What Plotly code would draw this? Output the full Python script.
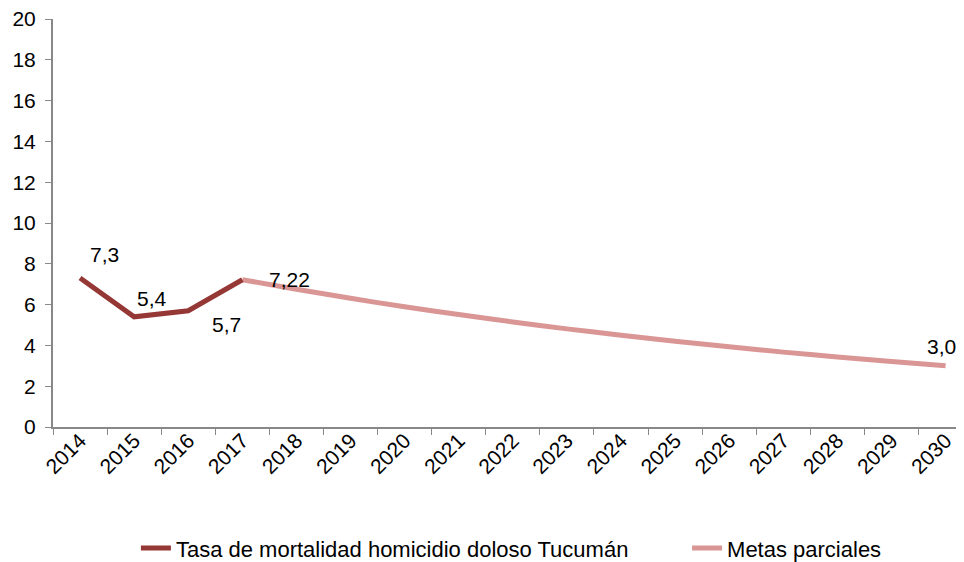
import plotly.graph_objects as go

years = [str(y) for y in range(2014, 2031)]
tasa_years = ["2014", "2015", "2016", "2017"]
tasa_values = [7.3, 5.4, 5.7, 7.22]

metas_years = years[3:]
metas_values = [7.22, 6.75, 6.31, 5.89, 5.51, 5.15, 4.81, 4.50, 4.20, 3.93, 3.67, 3.43, 3.21, 3.0]

label_years = ["2014", "2015", "2016", "2017", "2030"]
label_values = [7.3, 5.4, 5.7, 7.22, 3.0]
label_texts = ["7,3", "5,4", "5,7", "7,22", "3,0"]
label_dx = [24, 18, 38, 47, -4]
label_dy = [24, 18, -14, 0, 19]

dark = "#953735"
pink = "#D99694"
font = "Liberation Sans, Arial, sans-serif"
FS = 21

fig = go.Figure()
fig.add_trace(go.Scatter(
    x=metas_years, y=metas_values, mode="lines", name="Metas parciales",
    line=dict(color=pink, width=5, shape="spline", smoothing=0.6),
    legend="legend2",
))
fig.add_trace(go.Scatter(
    x=tasa_years, y=tasa_values, mode="lines",
    name="Tasa de mortalidad homicidio doloso Tucumán",
    line=dict(color=dark, width=5),
    legend="legend",
))

for xv, yv, t, dx, dy in zip(label_years, label_values, label_texts, label_dx, label_dy):
    fig.add_annotation(x=years.index(xv), y=yv, xref="x", yref="y", text=t,
                       showarrow=False, xshift=dx, yshift=dy,
                       font=dict(size=FS, color="#000000", family=font))

leg_common = dict(orientation="h", xanchor="left", y=-0.297, yanchor="middle",
                  font=dict(size=22), bgcolor="rgba(0,0,0,0)")

# page body has an 8px margin, so the figure is 8px smaller and margins shifted
fig.update_layout(
    width=956, height=554,
    margin=dict(l=45, r=0, t=11, b=135, autoexpand=False),
    paper_bgcolor="white", plot_bgcolor="white",
    font=dict(family=font, size=FS, color="#000000"),
    showlegend=True,
    legend=dict(x=0.091, **leg_common),
    legend2=dict(x=0.696, **leg_common),
    xaxis=dict(type="category", categoryorder="array", categoryarray=years,
               range=[-0.5, 16.34], tickangle=-45, showgrid=False, automargin=False,
               showline=True, linecolor="#888888", linewidth=2,
               ticks="outside", tickson="boundaries", ticklen=6, tickcolor="#888888",
               ticklabelstandoff=-9, ticklabeloverflow="allow",
               tickfont=dict(size=FS)),
    yaxis=dict(range=[0, 20], dtick=2, showgrid=False, zeroline=False, automargin=False,
               showline=True, linecolor="#888888", linewidth=2,
               ticks="outside", ticklen=6, tickcolor="#888888",
               ticklabelstandoff=5, ticklabeloverflow="allow",
               tickfont=dict(size=FS)),
)

fig.write_html("out.html")
